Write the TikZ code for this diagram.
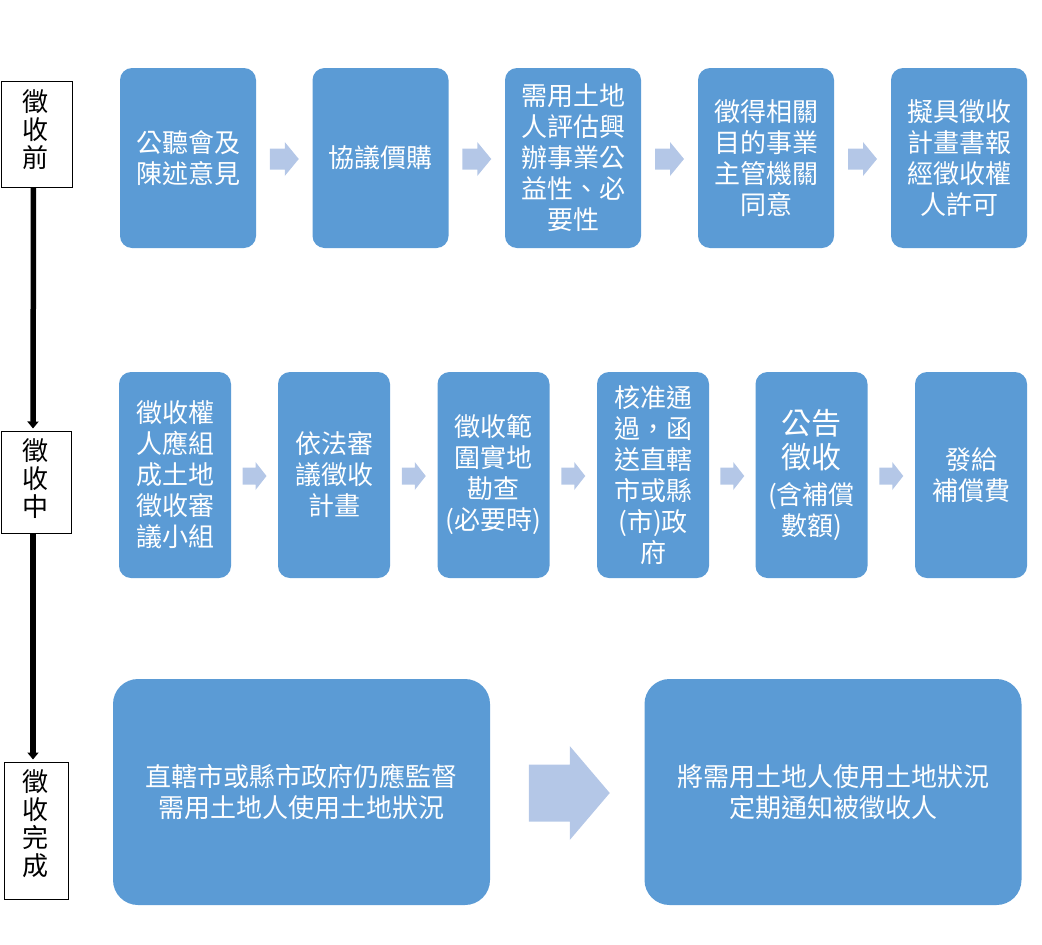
\documentclass[tikz,border=0pt]{standalone}
\usepackage{fontspec}
\setmainfont{Noto Sans CJK TC}
\usetikzlibrary{arrows.meta,calc}
\definecolor{boxblue}{HTML}{5B9BD5}
\definecolor{arrowblue}{HTML}{B4C7E7}
\begin{document}
\begin{tikzpicture}[x=1pt,y=-1pt,
  bluebox/.style={fill=boxblue,text=white,align=center,inner sep=0pt,
    font=\fontsize{26}{31}\selectfont},
  rowone/.style={bluebox,rounded corners=12pt,minimum width=136pt,minimum height=180pt},
  rowtwo/.style={bluebox,rounded corners=12pt,minimum width=112pt,minimum height=206pt},
  rowthree/.style={bluebox,rounded corners=25pt,minimum width=377pt,minimum height=226pt},
  stagebox/.style={draw=black,line width=1pt,fill=white,inner sep=0pt},
  stagetext/.style={align=center,inner sep=0pt,font=\fontsize{26}{28}\selectfont},
  stageconn/.style={line width=5.5pt,-{Triangle[width=11pt,length=7pt]},shorten >=2pt},
  pics/barrow/.style n args={4}{code={%
    \fill[arrowblue] ({-#1/2},{-#4/2}) -- ({-#1/2+#2},{-#4/2}) -- ({-#1/2+#2},{-#3/2})
      -- ({#1/2},0) -- ({-#1/2+#2},{#3/2}) -- ({-#1/2+#2},{#4/2}) -- ({-#1/2},{#4/2}) -- cycle;}}
]
\useasboundingbox (0,0) rectangle (1042,945);

% stage labels
\node[stagebox,minimum width=71pt,minimum height=106pt] (s1) at (36.5,134) {};
\node[stagetext] (st1) at (36,130) {徵\\收\\前};
\node[stagebox,minimum width=70pt,minimum height=102pt] (s2) at (36,482) {};
\node[stagetext] (st2) at (36,479) {徵\\收\\中};
\node[stagebox,minimum width=64pt,minimum height=137pt] (s3) at (36,830.5) {};
\node[stagetext] (st3) at (36,824) {徵\\收\\完\\成};

\draw[stageconn] ([xshift=-3pt]s1.south) -- ([xshift=-3pt]s2.north);
\draw[stageconn] ([xshift=-3pt]s2.south) -- ([xshift=-3pt]s3.north);

% row 1
\node[rowone] (a1) at (188,158) {公聽會及\\陳述意見};
\node[rowone] (a2) at (380.5,158) {協議價購};
\node[rowone] (a3) at (573,158) {需用土地\\人評估興\\辦事業公\\益性、必\\要性};
\node[rowone] (a4) at (766,158) {徵得相關\\目的事業\\主管機關\\同意};
\node[rowone] (a5) at (959,158) {擬具徵收\\計畫書報\\經徵收權\\人許可};

\pic at ($(a1.east)!0.5!(a2.west)+(0,1)$) {barrow={29}{15}{34}{21}};
\pic at ($(a2.east)!0.5!(a3.west)+(0,1)$) {barrow={29}{15}{34}{21}};
\pic at ($(a3.east)!0.5!(a4.west)+(0,1)$) {barrow={29}{15}{34}{21}};
\pic at ($(a4.east)!0.5!(a5.west)+(0,1)$) {barrow={29}{15}{34}{21}};

% row 2
\node[rowtwo] (b1) at (175,475) {徵收權\\人應組\\成土地\\徵收審\\議小組};
\node[rowtwo] (b2) at (334,475) {依法審\\議徵收\\計畫};
\node[rowtwo] (b3) at (493.5,475) {徵收範\\圍實地\\勘查\\(必要時)};
\node[rowtwo] (b4) at (653,475) {核准通\\過，函\\送直轄\\市或縣\\(市)政\\府};
\node[rowtwo] (b5) at (811.5,475) {{\fontsize{30}{31}\selectfont 公告}\\[3pt]{\fontsize{30}{31}\selectfont 徵收}\\[5pt](含補償\\數額)};
\node[rowtwo] (b6) at (971,475) {發給\\補償費};

\pic at ($(b1.east)!0.5!(b2.west)+(0,1)$) {barrow={24}{13}{28}{17}};
\pic at ($(b2.east)!0.5!(b3.west)+(0,1)$) {barrow={24}{13}{28}{17}};
\pic at ($(b3.east)!0.5!(b4.west)+(0,1)$) {barrow={24}{13}{28}{17}};
\pic at ($(b4.east)!0.5!(b5.west)+(0,1)$) {barrow={24}{13}{28}{17}};
\pic at ($(b5.east)!0.5!(b6.west)+(0,1)$) {barrow={24}{13}{28}{17}};

% row 3
\node[rowthree] (c1) at (301.5,792) {直轄市或縣市政府仍應監督\\需用土地人使用土地狀況};
\node[rowthree] (c2) at (833,792) {將需用土地人使用土地狀況\\定期通知被徵收人};

\pic at ($(c1.east)!0.5!(c2.west)+(2,1)$) {barrow={81}{41}{94}{57}};
\end{tikzpicture}
\end{document}
